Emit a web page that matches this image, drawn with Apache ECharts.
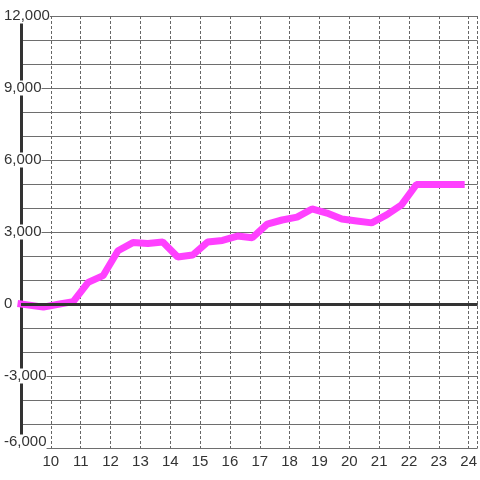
<!DOCTYPE html>
<html>
<head>
<meta charset="utf-8">
<style>
  html, body { margin: 0; padding: 0; background: #fff; }
  #chart { width: 480px; height: 480px; }
</style>
<script src="https://cdn.jsdelivr.net/npm/echarts@6/dist/echarts.min.js"></script>
</head>
<body>
<div id="chart"></div>
<script>
// hours (x) and values (y)
var hours = [9, 9.75, 10.25, 10.75, 11.25, 11.75, 12.25, 12.75, 13.25, 13.75,
  14.25, 14.75, 15.25, 15.75, 16.25, 16.75, 17.25, 17.75, 18.25, 18.75,
  19.25, 19.75, 20.25, 20.75, 21.25, 21.75, 22.25, 22.75, 23.25, 23.75]
var values = [0, -130, -10, 100, 900, 1180, 2220, 2560, 2520, 2580,
  1960, 2040, 2580, 2650, 2830, 2760, 3330, 3500, 3620, 3960,
  3790, 3540, 3460, 3380, 3710, 4130, 4980, 4980, 4980, 4980]
var yLabelStep = 3000
var yMin = -6000
var yMax = 12000

var font = 'Liberation Sans, Arial, sans-serif'
var points = hours.map(function (h, i) { return [h, values[i]] })

var chart = echarts.init(document.getElementById('chart'))
var option = {
  animation: false,
  grid: {
    left: 21,
    right: 0,
    top: 16,
    bottom: 32
  },
  xAxis: {
    type: 'value',
    min: 9,
    max: 24.3,
    interval: 1,
    axisLine: { show: false, onZero: false },
    axisTick: { show: false },
    axisLabel: {
      showMaxLabel: false,
      color: '#333',
      fontSize: 15,
      fontFamily: font,
      margin: 6,
      formatter: function (v) {
        return (v === 9 || v % 1 !== 0) ? '' : String(v)
      }
    },
    splitLine: {
      show: true,
      lineStyle: { color: '#666', width: 1, type: [3, 2] }
    }
  },
  yAxis: {
    type: 'value',
    min: yMin,
    max: yMax,
    interval: 1000,
    axisLine: { show: true, lineStyle: { color: '#333', width: 3 } },
    axisTick: { show: false },
    axisLabel: {
      color: '#333',
      fontSize: 15,
      fontFamily: font,
      align: 'left',
      margin: 17,
      backgroundColor: '#fff',
      formatter: function (v) {
        if (v % yLabelStep !== 0) return ''
        var s = v.toLocaleString('en-US')
        return v === yMin ? '{lo|' + s + '}' : s
      },
      rich: {
        lo: { fontSize: 15, fontFamily: font, color: '#333', padding: [0, 0, 12, 0] }
      }
    },
    splitLine: {
      show: true,
      lineStyle: { color: '#6e6e6e', width: 1 }
    }
  },
  series: [{
    type: 'line',
    data: points,
    symbol: 'none',
    lineStyle: { color: '#ff40ff', width: 7, cap: 'square' },
    markLine: {
      silent: true,
      symbol: ['none', 'none'],
      label: { show: false },
      lineStyle: { color: '#333', width: 3, type: 'solid' },
      data: [{ yAxis: 0 }]
    },
    z: 3
  }]
}
chart.setOption(option)
</script>
</body>
</html>
